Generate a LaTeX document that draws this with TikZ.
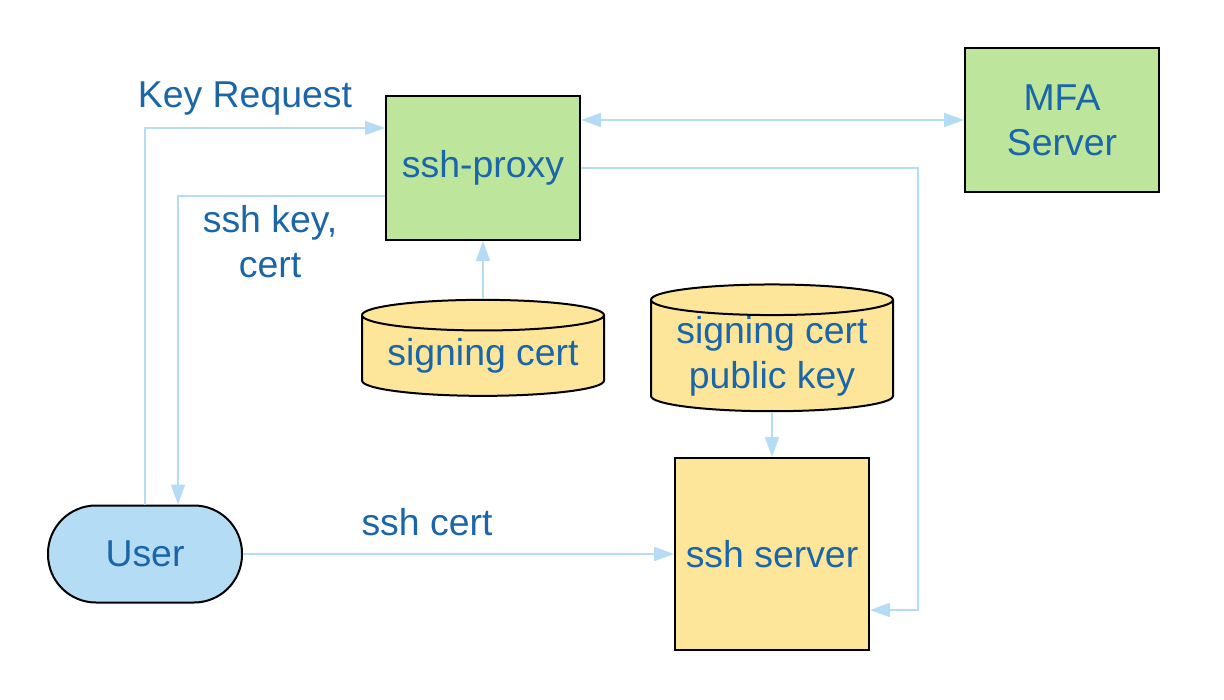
\documentclass[tikz,border=0pt]{standalone}
\usepackage{fontspec}
\setmainfont{Liberation Sans}
\usepackage{xcolor}
\usepackage{tikz}
\usetikzlibrary{arrows.meta}
\usetikzlibrary{shapes.geometric}
\definecolor{txtblue}{HTML}{1A66A8}
\definecolor{lineblue}{HTML}{B4DCF4}
\definecolor{boxgreen}{HTML}{BDE59B}
\definecolor{boxyellow}{HTML}{FDE699}
\definecolor{userblue}{HTML}{B4DCF4}
\tikzset{
    tnode/.style = {align=center, inner sep=0pt, text centered, txtblue, font=\fontsize{18.7pt}{22.5pt}\selectfont},
    green_box/.style = {tnode, rectangle, draw=black, line width=1pt, fill=boxgreen, minimum width=97pt, minimum height=72pt},
    yellow_box/.style = {tnode, rectangle, draw=black, line width=1pt, fill=boxyellow, minimum width=97pt, minimum height=96pt},
    store/.style = {tnode, cylinder, shape border rotate=90, aspect=0.16, draw=black, line width=1pt, fill=boxyellow, minimum width=121pt},
    user_node/.style = {tnode, rectangle, rounded corners=24pt, draw=black, line width=1pt, fill=userblue, minimum width=97pt, minimum height=48.5pt},
    label/.style = {tnode},
    link/.style = {draw=lineblue, line width=1pt}
}

\begin{document}
\begin{tikzpicture}
            [x=0.5pt, y=-0.5pt,
            >={Triangle[length=10pt, width=7pt]}]

            \useasboundingbox (0,0) rectangle (1224,700);

            \node [green_box] (proxy) at (483,168) {ssh-proxy};
            \node [green_box] (mfa) at (1062,120) {MFA\\Server};
            \node [store, minimum height=48pt] (sign) at (483,356) {signing cert};
            \node [store, minimum height=54pt] (pubkey) at (772,356) {signing cert\\public key};
            \node [yellow_box] (server) at (772,554) {ssh server};
            \node [user_node] (user) at (145,554) {User};

            \node [label] (keyreq) at (245,99) {Key Request};
            \node [label] (sshkey) at (270,242) {ssh key,\\cert};
            \node [label] (sshcert) at (427,522) {ssh cert};

            \draw [link, ->] (user.north -| 145,0) |- (proxy.west |- 0,128);
            \draw [link, ->] (proxy.west |- 0,196) -| (user.north -| 178,0);
            \draw [link, <->] (proxy.east |- 0,120) -- (mfa.west |- 0,120);
            \draw [link, ->] (proxy.east) -| (918,610) -- (server.east |- 0,610);
            \draw [link, ->] (sign.top) -- (proxy.south);
            \draw [link, ->] (pubkey.bottom) -- (server.north);
            \draw [link, ->] (user.east) -- (server.west);
        \end{tikzpicture}
\end{document}
